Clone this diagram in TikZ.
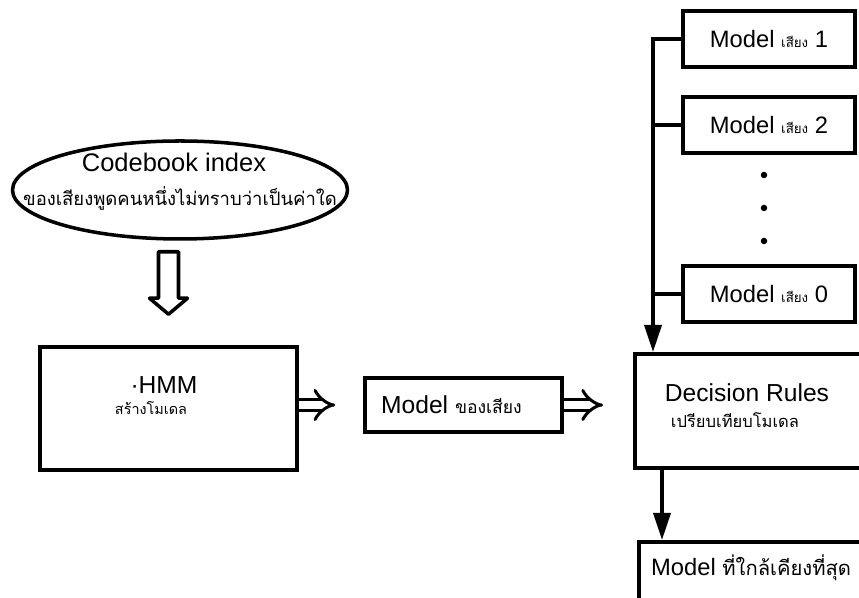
\documentclass[tikz,border=0pt]{standalone}
\usepackage{fontspec}
\setmainfont{Liberation Sans}
\newfontfamily\thaifont[Script=Thai]{Loma}
\usetikzlibrary{shapes.geometric,arrows.meta,calc}

\tikzset{
  box/.style={draw, rectangle, line width=2pt, inner sep=0pt},
  modelbox/.style={box, minimum width=3.44cm, minimum height=1.12cm, font=\fontsize{13.5}{15}\selectfont},
  hollow/.style={double, line width=1.7pt, double distance=0.16cm, -{Implies}},
  feed/.style={line width=2pt, -{Triangle[length=5.4mm,width=3.4mm]}},
  bus/.style={line width=2pt},
}

\begin{document}
\begin{tikzpicture}
  \useasboundingbox (0,0) rectangle (17.18,11.96);
  \clip (0,0) rectangle (17.18,11.96);
  %ingresso
  \node[draw, ellipse, line width=2pt, minimum width=6.7cm, minimum height=1.96cm] (cb) at (3.6, 8.16) {};
  \node[font=\fontsize{14.5}{16}\selectfont] (cbtitle) at (3.48, 8.72) {Codebook index};
  \node (cbsub) at (3.6, 8.0) {\thaifont\fontsize{10.5}{12}\selectfont ของเสียงพูดคนหนึ่งไม่ทราบว่าเป็นค่าใด};
  %blocchi
  \node[box, minimum width=5.14cm, minimum height=2.46cm] (hmm) at (3.37, 3.79) {};
  \node[font=\fontsize{14}{16}\selectfont] (hmmtitle) at (3.28, 4.26) {·HMM};
  \node (hmmsub) at (3.02, 3.8) {\thaifont\fontsize{8.2}{9}\selectfont สร้างโมเดล};
  \node[box, minimum width=3.94cm, minimum height=1.08cm] (mv) at (9.27, 3.86) {};
  \node[anchor=west, font=\fontsize{14}{16}\selectfont] (mvtext) at (7.5, 3.86) {Model {\thaifont\fontsize{10}{11}\selectfont ของเสียง}};
  \node[box, anchor=north west, minimum width=4.9cm, minimum height=2.28cm] (dr) at (12.66, 4.92) {};
  \node[font=\fontsize{14}{16}\selectfont] (drtitle) at (14.94, 4.1) {Decision Rules};
  \node (drsub) at (14.7, 3.56) {\thaifont\fontsize{9.4}{10}\selectfont เปรียบเทียบโมเดล};
  \node[box, anchor=north west, minimum width=4.9cm, minimum height=1.5cm] (best) at (12.74, 1.16) {};
  \node[anchor=west, font=\fontsize{13.5}{15}\selectfont] (besttext) at (12.9, 0.6) {Model {\thaifont\fontsize{11.5}{13}\selectfont ที่ใกล้เคียงที่สุด}};
  %modelli
  \node[modelbox] (m1) at (15.38, 11.18) {Model {\thaifont\fontsize{7.6}{8}\selectfont เสียง} 1};
  \node[modelbox] (m2) at (15.38, 9.46) {Model {\thaifont\fontsize{7.6}{8}\selectfont เสียง} 2};
  \node[modelbox] (m0) at (15.38, 6.08) {Model {\thaifont\fontsize{7.6}{8}\selectfont เสียง} 0};
  \foreach \y in {8.46, 7.8, 7.14}
    \fill (15.28, \y) circle (0.065);
  %frecce
  \coordinate (top) at ([yshift=-0.22cm]cb.south -| hmm.north);
  \coordinate (tip) at ([yshift=0.62cm]hmm.north);
  \draw[line width=2pt, line join=round] ($(top)+(-0.2,0)$) -- ($(tip)+(-0.2,0.32)$) -- ($(tip)+(-0.38,0.32)$)
    -- (tip) -- ($(tip)+(0.38,0.32)$) -- ($(tip)+(0.2,0.32)$) -- ($(top)+(0.2,0)$) -- cycle;
  \draw[hollow] (hmm.east |- mv.west) -- ([xshift=-0.56cm]mv.west);
  \draw[hollow] (mv.east) -- ([xshift=-0.6cm]dr.west |- mv.east);
  \coordinate (bus) at ([xshift=0.4cm]dr.north west);
  \draw[feed] (m1.west) -| (bus);
  \draw[bus] (m2.west) -- (m2.west -| bus);
  \draw[bus] (m0.west) -- (m0.west -| bus);
  \draw[feed] ([xshift=0.58cm]dr.south west) -- ([xshift=0.58cm]dr.south west |- best.north);
\end{tikzpicture}
\end{document}
